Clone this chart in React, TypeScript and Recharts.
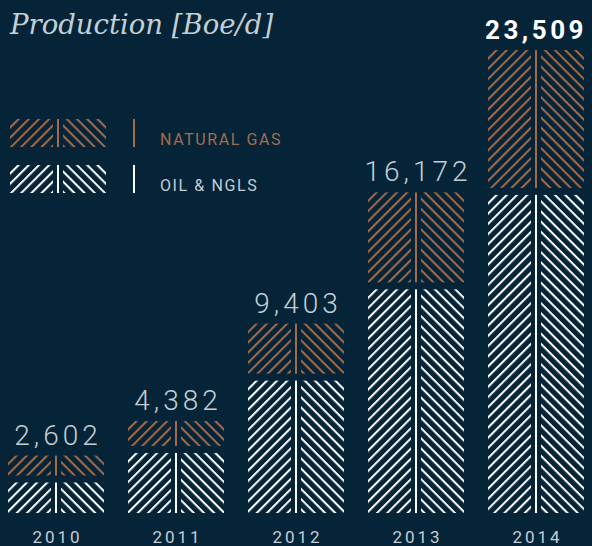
import React from 'react';
import { BarChart, Bar, XAxis, YAxis, LabelList, Legend } from 'recharts';

const years = ['2010', '2011', '2012', '2013', '2014'];
const oilNgls = [1572, 3092, 6823, 11532, 16399];
const naturalGas = [1030, 1290, 2580, 4640, 7110];

const BG = '#052437';
const BROWN = '#a66a48';
const WHITE = '#ffffff';
const TEXT = '#c3ced5';
const GAP = 7;
const NUM_FONT = 'Roboto, "DejaVu Sans", sans-serif';

const data = years.map((year, i) => ({
  year,
  oil: oilNgls[i],
  gas: naturalGas[i],
  total: oilNgls[i] + naturalGas[i],
}));

// herringbone bar: "/" hatch | solid line | "\" hatch
const Herringbone = ({ x, y, width, height, color, id, lift }: any) => {
  if (!height || height <= 0) return null;
  const top = y - lift;
  const cx = x + width / 2;
  const side = width / 2 - 5;
  return (
    <g>
      <defs>
        <pattern id={`${id}-l`} patternUnits="userSpaceOnUse" width={7.2} height={7.2}
          patternTransform={`translate(${cx} ${top}) rotate(45)`}>
          <rect x={0} y={0} width={2} height={7.2} fill={color} />
        </pattern>
        <pattern id={`${id}-r`} patternUnits="userSpaceOnUse" width={7.2} height={7.2}
          patternTransform={`translate(${cx} ${top}) rotate(-45)`}>
          <rect x={5.2} y={0} width={2} height={7.2} fill={color} />
        </pattern>
      </defs>
      <rect x={x} y={top} width={side} height={height} fill={`url(#${id}-l)`} />
      <rect x={cx + 5} y={top} width={side} height={height} fill={`url(#${id}-r)`} />
      <rect x={cx - 1} y={top} width={2} height={height} fill={color} />
    </g>
  );
};

const TotalLabel = (props: any) => {
  const { x, y, width, value, index } = props;
  const last = index === data.length - 1;
  return (
    <text
      x={x + width / 2 + (last ? 0 : 2)}
      y={y - GAP - 11}
      textAnchor="middle"
      fill={last ? WHITE : TEXT}
      fontFamily={NUM_FONT}
      fontSize={last ? 26 : 28}
      fontWeight={last ? 700 : 300}
      letterSpacing={last ? 3.5 : 4}
    >
      {Number(value).toLocaleString('en-US')}
    </text>
  );
};

const YearTick = ({ x, y, payload }: any) => (
  <text x={x + 1.5} y={y} dy={22} textAnchor="middle" fill={TEXT}
    fontFamily={NUM_FONT} fontSize={17} letterSpacing={3}>
    {payload.value}
  </text>
);

const Swatch = ({ color, id }: { color: string; id: string }) => (
  <svg width={96} height={28} style={{ display: 'block' }}>
    <Herringbone x={0} y={0} width={96} height={28} color={color} id={id} lift={0} />
  </svg>
);

const legendItems = [
  { label: 'NATURAL GAS', color: BROWN, text: '#a36c4f' },
  { label: 'OIL & NGLS', color: WHITE, text: TEXT },
];

const LegendContent = () => (
  <div>
    {legendItems.map((item, i) => (
      <div key={item.label} style={{ display: 'flex', alignItems: 'center', height: 28, marginBottom: i === 0 ? 18 : 0 }}>
        <Swatch color={item.color} id={`lg-${i}`} />
        <div style={{ width: 2, height: 28, background: item.color, marginLeft: 27 }} />
        <span style={{
          marginLeft: 25, marginTop: 12, color: item.text, fontFamily: NUM_FONT,
          fontSize: 16, letterSpacing: 1.6,
        }}>{item.label}</span>
      </div>
    ))}
  </div>
);

export default function App() {
  return (
    <div style={{ position: 'absolute', left: 0, top: 0, width: 592, height: 546, background: BG, overflow: 'hidden' }}>
      <div style={{
        position: 'absolute', left: 10, top: 8, color: TEXT,
        fontFamily: '"DejaVu Serif", serif', fontStyle: 'italic', fontSize: 27.5, zIndex: 2,
      }}>
        Production [Boe/d]
      </div>
      <BarChart width={592} height={546} data={data}
        margin={{ top: 47.5, right: -4, bottom: 0, left: -4 }}>
        <XAxis dataKey="year" axisLine={false} tickLine={false} height={33} tick={<YearTick />} interval={0} />
        <YAxis hide domain={[0, 24000]} />
        <Legend
          layout="vertical"
          align="center"
          verticalAlign="middle"
          content={<LegendContent />}
          wrapperStyle={{ position: 'absolute', top: 119, left: 10, width: 'auto', height: 'auto' }}
        />
        <Bar dataKey="oil" stackId="a" barSize={96} isAnimationActive={false}
          shape={(p: any) => <Herringbone {...p} color={WHITE} id={`oil-${p.index}`} lift={0} />} />
        <Bar dataKey="gas" stackId="a" barSize={96} isAnimationActive={false}
          shape={(p: any) => <Herringbone {...p} color={BROWN} id={`gas-${p.index}`} lift={GAP} />}>
          <LabelList dataKey="total" content={<TotalLabel />} />
        </Bar>
      </BarChart>
    </div>
  );
}
